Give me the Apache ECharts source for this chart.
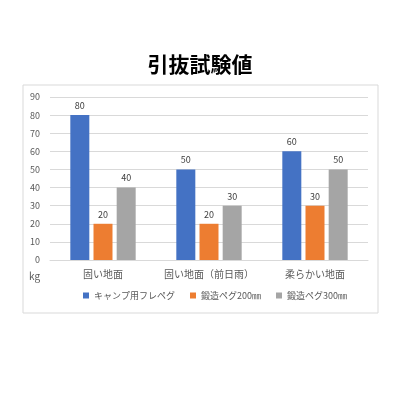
<!DOCTYPE html>
<html><head><meta charset="utf-8">
<script src="https://cdn.jsdelivr.net/npm/echarts@6/dist/echarts.min.js"></script>
<style>html,body{margin:0;padding:0;background:#fff}#c{width:400px;height:400px}</style>
</head><body><div id="c"></div>
<script>
const categories = ['固い地面', '固い地面（前日雨）', '柔らかい地面'];
const seriesNames = ['キャンプ用フレペグ', '鍛造ペグ200㎜', '鍛造ペグ300㎜'];
const campPeg = [80, 50, 60];
const forged200 = [20, 20, 30];
const forged300 = [40, 30, 50];
const colors = ['#4472c4', '#ed7d31', '#a5a5a5'];
const font = '"Noto Sans CJK JP", "Noto Sans", sans-serif';
const chart = echarts.init(document.getElementById('c'));
const mk = (name, data, color) => ({
  name, type: 'bar', data, barWidth: 19, barGap: '22%',
  itemStyle: { color },
  label: { show: true, position: 'top', color: '#404040', fontSize: 9, fontFamily: font, distance: 5 }
});
chart.setOption({
  animation: false,
  title: { text: '引抜試験値', left: 'center', top: 49, textStyle: { fontSize: 21, fontWeight: 'bold', color: '#000', fontFamily: font } },
  graphic: [{ type: 'rect', shape: { x: 23, y: 85, width: 355, height: 228 }, style: { fill: 'none', stroke: '#d9d9d9', lineWidth: 1 }, z: -1 },
            { type: 'text', left: 29, top: 271, style: { text: 'kg', fontSize: 10, fill: '#595959', fontFamily: font } }],
  legend: { bottom: 95, left: 78, itemWidth: 6, itemHeight: 6, itemGap: 15, icon: 'rect',
    textStyle: { fontSize: 9, color: '#595959', fontFamily: font } },
  grid: { left: 50, right: 32, top: 97, bottom: 140 },
  xAxis: { type: 'category', data: categories,
    axisLine: { lineStyle: { color: '#d9d9d9' } }, axisTick: { show: false },
    axisLabel: { interval: 0, color: '#595959', fontSize: 10, fontFamily: font, margin: 9 } },
  yAxis: { type: 'value', min: 0, max: 90, interval: 10,
    axisLabel: { color: '#595959', fontSize: 9, fontFamily: font, margin: 10 },
    splitLine: { lineStyle: { color: '#d9d9d9' } } },
  series: [mk(seriesNames[0], campPeg, colors[0]), mk(seriesNames[1], forged200, colors[1]), mk(seriesNames[2], forged300, colors[2])]
});
</script></body></html>
